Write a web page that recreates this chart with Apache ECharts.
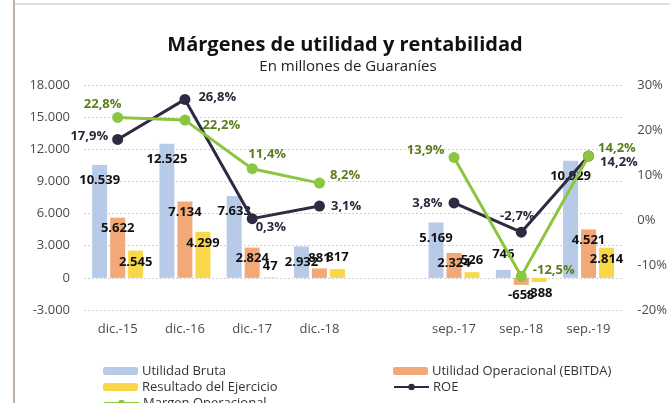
<!DOCTYPE html>
<html>
<head>
<meta charset="UTF-8">
<title>Márgenes de utilidad y rentabilidad</title>
<script src="https://cdn.jsdelivr.net/npm/echarts@6/dist/echarts.min.js"></script>
<style>
  html, body { margin: 0; padding: 0; background: #fff; }
  #chart { width: 670px; height: 403px; }
</style>
</head>
<body>
<div id="chart"></div>
<script>
// data (blank category separates the dic. and sep. groups)
const categories = ['dic.-15', 'dic.-16', 'dic.-17', 'dic.-18', '', 'sep.-17', 'sep.-18', 'sep.-19'];
const utilidadBruta = [10539, 12525, 7633, 2932, null, 5169, 746, 10929];
const utilidadOperacional = [5622, 7134, 2824, 881, null, 2324, -658, 4521];
const resultadoEjercicio = [2545, 4299, 47, 817, null, 526, -388, 2814];
const roe = [17.9, 26.8, 0.3, 3.1, null, 3.8, -2.7, 14.2];
const margenOperacional = [22.8, 22.2, 11.4, 8.2, null, 13.9, -12.5, 14.2];

const leftTicks = { min: -3000, max: 18000, interval: 3000 };
const rightTicks = { min: -20, max: 30, interval: 10 };

// label placement per point for the two lines
const roeLabelPos = [
  { position: 'left', distance: 4, offset: [0, -3] },
  { position: 'right', distance: 8, offset: [0, -2] },
  { position: 'right', distance: 0, offset: [-2, 9] },
  { position: 'right', distance: 6 },
  null,
  { position: 'left', distance: 6 },
  { position: 'top', distance: 4, offset: [-4, 0] },
  { position: 'right', distance: 6, offset: [0, 6] }
];
const margenLabelPos = [
  { position: 'top', distance: 1, offset: [-15, 0] },
  { position: 'right', distance: 12, offset: [0, 5] },
  { position: 'top', distance: 2, offset: [15, 0] },
  { position: 'right', distance: 5, offset: [0, -8] },
  null,
  { position: 'left', distance: 4, offset: [0, -7] },
  { position: 'right', distance: 6, offset: [0, -6] },
  { position: 'right', distance: 4, offset: [0, -8] }
];

const FONT = 'Open Sans';

function thousands(v) {
  return String(v).replace(/\B(?=(\d{3})+(?!\d))/g, '.');
}
function pct(v) {
  return v.toFixed(1).replace('.', ',') + '%';
}

function barData(values) {
  return values.map(v => {
    if (v == null) return '-';
    let position = 'insideTop';
    if (v < 0) position = 'bottom';
    else if (v < 1000) position = 'top';
    return { value: v, label: { position } };
  });
}
function lineData(values, pos) {
  return values.map((v, i) => v == null ? '-' : { value: v, label: pos[i] });
}

const barLabel = (distance) => ({
  show: true,
  distance,
  color: '#111',
  fontFamily: FONT,
  fontWeight: 'bold',
  fontSize: 13,
  formatter: p => thousands(p.value)
});

// one legend box per entry so the two columns line up like the original
function legendItem(name, left, top) {
  return {
    left, top, itemGap: 0,
    itemWidth: 35, itemHeight: 8,
    textStyle: { fontSize: 13, color: '#333', lineHeight: 16, fontFamily: FONT, padding: [0, 0, 0, -1] },
    data: [name]
  };
}

const chart = echarts.init(document.getElementById('chart'));
chart.setOption({
  backgroundColor: '#fff',
  animation: false,
  textStyle: { fontFamily: FONT },
  title: [
    {
      text: 'Márgenes de utilidad y rentabilidad',
      left: 340, top: 30, textAlign: 'center',
      textStyle: { fontSize: 20, fontWeight: 'bold', color: '#111', fontFamily: FONT }
    },
    {
      text: 'En millones de Guaraníes',
      left: 343, top: 54, textAlign: 'center',
      textStyle: { fontSize: 15, fontWeight: 'normal', color: '#222', fontFamily: FONT }
    }
  ],
  graphic: [
    { type: 'line', shape: { x1: 14, y1: 0, x2: 14, y2: 403 }, style: { stroke: '#a8968a', lineWidth: 1.5 } },
    { type: 'line', shape: { x1: 14, y1: 4, x2: 670, y2: 4 }, style: { stroke: '#cbbcae', lineWidth: 1 } }
  ],
  legend: [
    legendItem('Utilidad Bruta', 98, 358),
    legendItem('Resultado del Ejercicio', 98, 374),
    legendItem('Margen Operacional', 98, 390),
    legendItem('Utilidad Operacional (EBITDA)', 388, 358),
    legendItem('ROE', 388, 374)
  ],
  grid: { left: 84, right: 42, top: 85, bottom: 93, containLabel: false },
  xAxis: {
    type: 'category',
    data: categories,
    axisLine: { show: false },
    axisTick: { show: false },
    axisLabel: { margin: 13, fontSize: 13, color: '#4a4a4a', fontFamily: FONT, interval: 0 }
  },
  yAxis: [
    {
      type: 'value',
      min: leftTicks.min, max: leftTicks.max, interval: leftTicks.interval,
      axisLine: { show: false }, axisTick: { show: false },
      axisLabel: { margin: 14, fontSize: 13, color: '#4a4a4a', fontFamily: FONT, formatter: thousands },
      splitLine: { lineStyle: { color: '#cfcfcf', type: [2, 2] } }
    },
    {
      type: 'value',
      min: rightTicks.min, max: rightTicks.max, interval: rightTicks.interval,
      axisLine: { show: false }, axisTick: { show: false },
      axisLabel: { margin: 15, fontSize: 13, color: '#4a4a4a', fontFamily: FONT, formatter: '{value}%' },
      splitLine: { show: false }
    }
  ],
  series: [
    {
      name: 'Utilidad Bruta', type: 'bar', yAxisIndex: 0,
      barWidth: 15, barGap: '20%',
      itemStyle: { color: '#b7cbe8' },
      label: barLabel(9),
      data: barData(utilidadBruta)
    },
    {
      name: 'Utilidad Operacional (EBITDA)', type: 'bar', yAxisIndex: 0,
      barWidth: 15, barGap: '20%',
      itemStyle: { color: '#f3a977' },
      label: barLabel(4),
      data: barData(utilidadOperacional)
    },
    {
      name: 'Resultado del Ejercicio', type: 'bar', yAxisIndex: 0,
      barWidth: 15, barGap: '20%',
      itemStyle: { color: '#f8d84a' },
      label: barLabel(5),
      data: barData(resultadoEjercicio)
    },
    {
      name: 'ROE', type: 'line', yAxisIndex: 1,
      symbol: 'circle', symbolSize: 11,
      lineStyle: { color: '#2e2a42', width: 3 },
      itemStyle: { color: '#2e2a42' },
      label: {
        show: true, color: '#2a2838', fontFamily: FONT, fontWeight: 'bold', fontSize: 13,
        formatter: p => pct(p.value)
      },
      data: lineData(roe, roeLabelPos)
    },
    {
      name: 'Margen Operacional', type: 'line', yAxisIndex: 1,
      symbol: 'circle', symbolSize: 11,
      lineStyle: { color: '#8cc63f', width: 3 },
      itemStyle: { color: '#8cc63f' },
      label: {
        show: true, color: '#5c7d1e', fontFamily: FONT, fontWeight: 'bold', fontSize: 13,
        formatter: p => pct(p.value)
      },
      data: lineData(margenOperacional, margenLabelPos)
    }
  ]
});
</script>
</body>
</html>
